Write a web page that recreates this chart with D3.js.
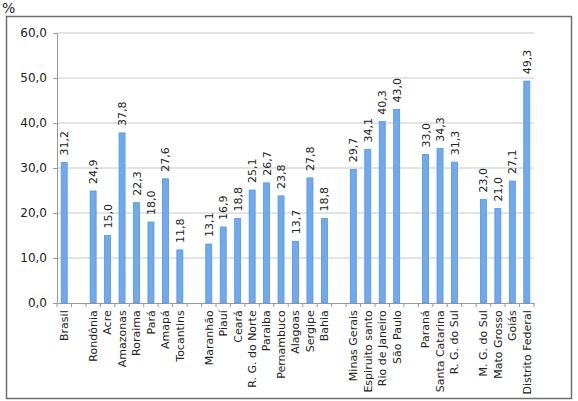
<!DOCTYPE html>
<html lang="pt">
<head>
<meta charset="UTF-8">
<script src="https://d3js.org/d3.v7.min.js"></script>
<style>
  body { margin: 0; background: #fff; }
  svg { display: block; font-family: "DejaVu Sans", sans-serif; }
  .tick text { fill: #222; }
</style>
</head>
<body>
<script>
// categories, blank entries are the gaps between regions
const categories = [
  "Brasil", "",
  "Rondônia", "Acre", "Amazonas", "Roraima", "Pará", "Amapá", "Tocantins", " ",
  "Maranhão", "Piauí", "Ceará", "R. G. do Norte", "Paraiba", "Pernambuco", "Alagoas", "Sergipe", "Bahia", "  ",
  "Minas Gerais", "Espiruito santo", "Rio de Janeiro", "São Paulo", "   ",
  "Paraná", "Santa Catarina", "R. G. do Sul", "    ",
  "M. G. do Sul", "Mato Grosso", "Goiás", "Distrito Federal"
];
const values = [
  31.2, null,
  24.9, 15.0, 37.8, 22.3, 18.0, 27.6, 11.8, null,
  13.1, 16.9, 18.8, 25.1, 26.7, 23.8, 13.7, 27.8, 18.8, null,
  29.7, 34.1, 40.3, 43.0, null,
  33.0, 34.3, 31.3, null,
  23.0, 21.0, 27.1, 49.3
];
const yTicks = [0, 10, 20, 30, 40, 50, 60];

const width = 578, height = 401;
const margin = { left: 57, right: 44, top: 33, bottom: 98 };
const fmt = d => d.toFixed(1).replace(".", ",");

const svg = d3.select("body").append("svg")
  .attr("width", width).attr("height", height);

// outer frame
svg.append("rect")
  .attr("x", 6.5).attr("y", 16.5)
  .attr("width", 565).attr("height", 382)
  .attr("fill", "none").attr("stroke", "#6f6f6f").attr("stroke-width", 1.5);

svg.append("text")
  .attr("x", 2).attr("y", 13)
  .attr("font-size", 14).attr("fill", "#222")
  .text("%");

const x = d3.scaleBand()
  .domain(categories)
  .range([margin.left, width - margin.right])
  .paddingInner(0).paddingOuter(0);

const y = d3.scaleLinear()
  .domain([0, 60])
  .range([height - margin.bottom, margin.top]);

// gridlines
svg.append("g")
  .selectAll("line")
  .data(yTicks.filter(d => d > 0))
  .enter().append("line")
  .attr("x1", margin.left).attr("x2", width - margin.right)
  .attr("y1", d => y(d)).attr("y2", d => y(d))
  .attr("stroke", "#c8c8c8").attr("stroke-width", 1);

// y axis
const yAxis = svg.append("g")
  .attr("transform", `translate(${margin.left},0)`)
  .call(d3.axisLeft(y).tickValues(yTicks).tickFormat(fmt).tickSize(4).tickPadding(6));
yAxis.selectAll("text").attr("font-size", 12).attr("font-family", "DejaVu Sans, sans-serif");
yAxis.selectAll("line, path").attr("stroke", "#999");

// x axis, labels rotated, ticks drawn between categories
const xAxis = svg.append("g")
  .attr("transform", `translate(0,${y(0)})`)
  .call(d3.axisBottom(x).tickSize(0).tickPadding(4));
xAxis.select(".domain").attr("stroke", "#999");
xAxis.selectAll("text")
  .attr("font-size", 11)
  .attr("font-family", "DejaVu Sans, sans-serif")
  .attr("text-anchor", "end")
  .attr("dx", "-0.3em")
  .attr("dy", "0.35em")
  .attr("transform", "rotate(-90)")
  .attr("x", -4).attr("y", 0);

svg.append("g")
  .selectAll("line")
  .data(d3.range(categories.length + 1))
  .enter().append("line")
  .attr("x1", i => x.range()[0] + i * x.step())
  .attr("x2", i => x.range()[0] + i * x.step())
  .attr("y1", y(0)).attr("y2", y(0) + 4)
  .attr("stroke", "#999");

const data = categories.map((c, i) => ({ c, v: values[i] })).filter(d => d.v != null);
const barW = 6;

svg.append("g")
  .selectAll("rect")
  .data(data)
  .enter().append("rect")
  .attr("x", d => x(d.c) + x.bandwidth() / 2 - barW / 2)
  .attr("y", d => y(d.v))
  .attr("width", barW)
  .attr("height", d => y(0) - y(d.v))
  .attr("fill", "#6fa9ee")
  .attr("stroke", "#5a93dc").attr("stroke-width", 0.8);

svg.append("g")
  .selectAll("text")
  .data(data)
  .enter().append("text")
  .attr("transform", d => `translate(${x(d.c) + x.bandwidth() / 2 + 4},${y(d.v) - 7}) rotate(-90)`)
  .attr("font-size", 11)
  .attr("fill", "#222")
  .text(d => fmt(d.v));
</script>
</body>
</html>
